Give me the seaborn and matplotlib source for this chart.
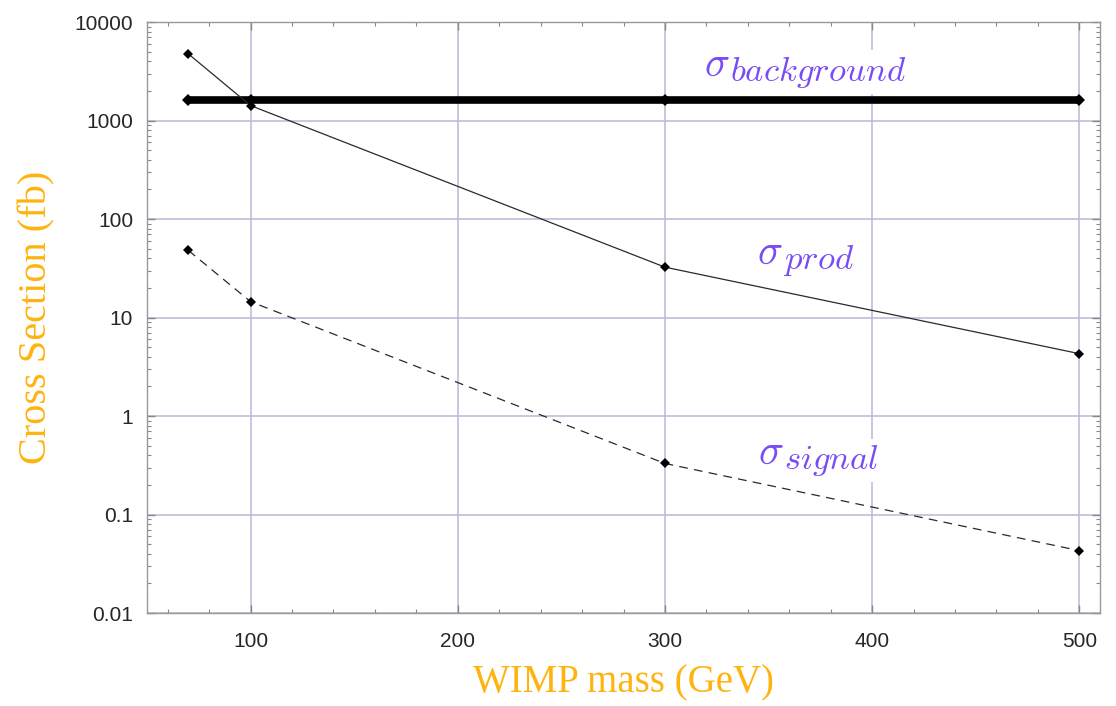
import numpy as np
import pandas as pd
import seaborn as sns
import matplotlib.pyplot as plt
from matplotlib.ticker import FixedLocator, MultipleLocator, LogLocator, NullFormatter

# values
mass = [70, 100, 300, 500]
sigma_prod = [4750, 1420, 32.5, 4.3]
sigma_signal = [48, 14.5, 0.33, 0.043]
sigma_background = [1630, 1630, 1630, 1630]

y_ticks = [0.01, 0.1, 1, 10, 100, 1000, 10000]
y_labels = ['0.01', '0.1', '1', '10', '100', '1000', '10000']
x_ticks = [100, 200, 300, 400, 500]

# curve labels: subscript text and where the sigma sits
label_names = ['background', 'prod', 'signal']
label_x = [319, 344.5, 345]
label_y = [3750, 46, 0.43]

df = pd.DataFrame({'mass': mass, 'prod': sigma_prod,
                   'signal': sigma_signal, 'background': sigma_background})

sns.set_style('white')
plt.rcParams['mathtext.fontset'] = 'cm'

fig = plt.figure(figsize=(11.16, 7.06), dpi=100)
ax = fig.add_axes([0.1317, 0.1317, 0.854, 0.837])

grid_c = '#b8b8d8'
for xv in x_ticks:
    ax.axvline(xv, color=grid_c, lw=1.1, zorder=0)
for yv in y_ticks:
    ax.axhline(yv, color=grid_c, lw=1.1, zorder=0)

sns.lineplot(data=df, x='mass', y='background', ax=ax, color='black',
             lw=5.5, marker='D', markersize=6, markeredgewidth=0, zorder=3)
sns.lineplot(data=df, x='mass', y='prod', ax=ax, color='#2a2a2a',
             lw=0.9, marker='D', markersize=5.5, markeredgewidth=0,
             markerfacecolor='black', zorder=4)
sns.lineplot(data=df, x='mass', y='signal', ax=ax, color='#2a2a2a',
             lw=0.9, ls=(0, (7, 5)), marker='D', markersize=5.5,
             markeredgewidth=0, markerfacecolor='black', zorder=4)

ax.set_yscale('log')
ax.set_xlim(50, 510)
ax.set_ylim(0.01, 10000)

ax.yaxis.set_major_locator(FixedLocator(y_ticks))
ax.set_yticklabels(y_labels)
ax.yaxis.set_minor_locator(LogLocator(base=10, subs=np.arange(2, 10)))
ax.yaxis.set_minor_formatter(NullFormatter())
ax.xaxis.set_major_locator(FixedLocator(x_ticks))
ax.xaxis.set_minor_locator(MultipleLocator(20))

for lab in ax.get_xticklabels() + ax.get_yticklabels():
    lab.set_fontfamily('Liberation Sans')
    lab.set_fontsize(15)

ax.tick_params(which='both', direction='in', color='#888888',
               top=True, right=True, left=True, bottom=True)
ax.tick_params(which='major', length=6, width=1)
ax.tick_params(which='minor', length=3, width=0.8)
ax.tick_params(axis='x', which='major', pad=14)
ax.tick_params(axis='y', which='major', pad=10)
for sp in ax.spines.values():
    sp.set_color('#999999')
    sp.set_linewidth(1)

orange = '#ffb30f'
ax.set_xlabel('WIMP mass (GeV)', family='Liberation Serif', fontsize=28,
              color=orange, labelpad=9)
ax.set_ylabel('Cross Section (fb)', family='Liberation Serif', fontsize=29,
              color=orange, labelpad=14)

purple = '#7a4cf5'
box = dict(facecolor='white', edgecolor='none', pad=3)
for name, lx, ly in zip(label_names, label_x, label_y):
    ax.annotate(r'$\sigma$', xy=(lx, ly), color=purple, fontsize=30,
                va='center', ha='left', zorder=5, annotation_clip=False)
    ax.annotate(r'$' + name + '$', xy=(lx, ly), xytext=(18.5, -12),
                textcoords='offset points', color=purple, fontsize=25,
                va='baseline', ha='left', bbox=box, zorder=2)

fig.savefig('out.png', dpi=100)
